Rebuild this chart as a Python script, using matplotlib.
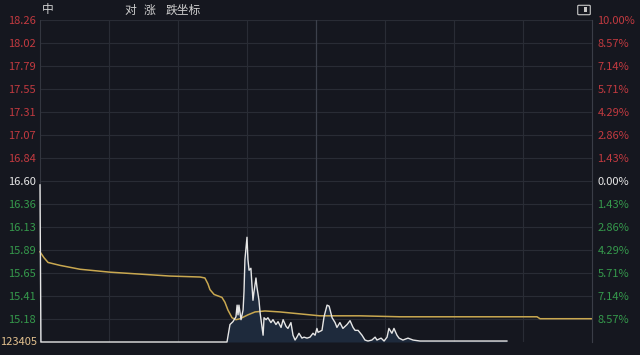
import numpy as np
import matplotlib.pyplot as plt
from matplotlib.patches import FancyBboxPatch, Rectangle

plt.rcParams['font.family'] = ['Noto Sans CJK SC', 'DejaVu Sans']

# price axis (left) and change % (right)
price_ticks = [18.26, 18.02, 17.79, 17.55, 17.31, 17.07, 16.84, 16.60,
               16.36, 16.13, 15.89, 15.65, 15.41, 15.18]
pct_labels = ['10.00%', '8.57%', '7.14%', '5.71%', '4.29%', '2.86%', '1.43%', '0.00%',
              '1.43%', '2.86%', '4.29%', '5.71%', '7.14%', '8.57%']
base_price = 16.60
low_limit, high_limit = 14.94, 18.26
volume_label = '123405'

# minute line (white), minutes 0-240
t_price = [0, 0.4, 81.3, 82.6, 83.9, 85.2, 85.7, 86.1, 86.5, 87.4,
           88.3, 88.7, 89.1, 90.0, 90.4, 90.9, 91.7, 92.2, 92.6, 93.0,
           93.9, 94.3, 95.2, 95.7, 96.1, 97.0, 97.4, 98.3, 99.1, 100.4,
           101.3, 102.6, 103.5, 104.8, 105.7, 107.0, 107.8, 109.1, 110.0, 110.9,
           111.7, 112.6, 113.9, 114.8, 116.1, 117.4, 118.7, 119.6, 120.4, 120.9,
           122.6, 123.5, 124.8, 125.7, 127.0, 128.3, 129.1, 130.4, 131.7, 133.5,
           134.8, 136.1, 137.0, 138.3, 140.0, 141.3, 142.6, 144.3, 145.7, 146.5,
           148.3, 149.6, 150.9, 151.7, 153.0, 153.9, 155.2, 156.1, 157.8, 160.0,
           162.2, 165.2, 203.0]
price = [16.56, 14.94, 14.94, 15.12, 15.15, 15.20, 15.32, 15.22, 15.32, 15.17,
         15.27, 15.46, 15.79, 16.02, 15.79, 15.68, 15.70, 15.51, 15.37, 15.45,
         15.60, 15.51, 15.37, 15.24, 15.17, 15.01, 15.19, 15.17, 15.19, 15.14,
         15.17, 15.12, 15.15, 15.09, 15.17, 15.10, 15.08, 15.14, 15.01, 14.96,
         14.99, 15.03, 14.98, 14.99, 14.98, 14.99, 15.03, 15.01, 15.08, 15.04,
         15.06, 15.20, 15.32, 15.31, 15.19, 15.14, 15.09, 15.14, 15.08, 15.12,
         15.16, 15.09, 15.06, 15.06, 15.01, 14.96, 14.95, 14.96, 14.99, 14.96,
         14.98, 14.95, 14.99, 15.08, 15.03, 15.08, 15.01, 14.98, 14.96, 14.98,
         14.96, 14.95, 14.95]

# average price line (yellow)
t_avg = [0, 1.7, 3.5, 8.7, 17.4, 30.4, 43.5, 56.5, 69.6, 71.7, 73.0, 73.9, 75.7,
         79.1, 80.4, 81.7, 83.5, 85.2, 87.0, 90.4, 93.5, 97.8, 104.3, 113.0,
         121.7, 139.1, 156.5, 216.1, 217.4, 240]
avg = [15.87, 15.81, 15.76, 15.73, 15.69, 15.66, 15.64, 15.62, 15.61, 15.60,
       15.54, 15.48, 15.43, 15.40, 15.35, 15.27, 15.19, 15.17, 15.18, 15.22,
       15.25, 15.26, 15.25, 15.23, 15.21, 15.21, 15.20, 15.20, 15.18, 15.18]

bg = '#15171f'
grid_c = '#292c35'
red = '#c23a40'
green = '#35994c'

fig = plt.figure(figsize=(6.4, 3.55), dpi=100, facecolor=bg)
ax = fig.add_axes([40/640, 1 - 342/355, 552/640, 322/355], facecolor=bg)

for p in price_ticks:
    ax.axhline(p, color=grid_c, lw=0.8, zorder=0)
for m in [30, 60, 90, 150, 180, 210]:
    ax.axvline(m, color=grid_c, lw=0.8, zorder=0)
ax.axvline(120, color='#3c404b', lw=0.9, zorder=0)

ax.fill_between(t_price, price, low_limit, color='#1e2a3c', lw=0, zorder=1)
ax.plot(t_avg, avg, color='#c9a850', lw=1.1, zorder=2, clip_on=False)
ax.plot(t_price, price, color='#e6e6e6', lw=1.0, zorder=3, clip_on=False)

ax.set_xlim(0, 240)
ax.set_ylim(low_limit, high_limit)
ax.set_xticks([])

for s in ['top', 'bottom']:
    ax.spines[s].set_visible(False)
ax.spines['left'].set_color('#33363f')
ax.spines['right'].set_color('#3a3d47')

def tick_color(p):
    if p > base_price:
        return red
    if p < base_price:
        return green
    return '#e8e8e8'

ax.set_yticks(price_ticks)
ax.set_yticklabels([f'{p:.2f}' for p in price_ticks], fontsize=8)
ax.tick_params(axis='y', length=0, pad=3)
for lbl, p in zip(ax.get_yticklabels(), price_ticks):
    lbl.set_color(tick_color(p))

ax2 = ax.twinx()
ax2.set_ylim(low_limit, high_limit)
ax2.set_yticks(price_ticks)
ax2.set_yticklabels(pct_labels, fontsize=8)
ax2.tick_params(axis='y', length=0, pad=4)
for lbl, p in zip(ax2.get_yticklabels(), price_ticks):
    lbl.set_color(tick_color(p))
for s in ax2.spines.values():
    s.set_visible(False)

fig.text(37/640, 1 - 342/355, volume_label, color='#e2c08e', fontsize=8,
         ha='right', va='center')

# title (partly blurred in the original)
ty = 1 - 10/355
fig.text(42/640, ty, '中', color='#cfcfcf', fontsize=8.5, va='center')
fig.text(124/640, ty, '对', color='#cfcfcf', fontsize=8.5, va='center')
fig.text(144/640, ty, '涨', color='#cfcfcf', fontsize=8.5, va='center')
fig.text(166/640, ty, '跌坐标', color='#cfcfcf', fontsize=8.5, va='center')

# small icon top right
fig.patches.append(FancyBboxPatch((579/640, 1 - 14/355), 10/640, 8/355,
                                  boxstyle='round,pad=0.002', fc='none', ec='#c8c8c8',
                                  lw=0.8, transform=fig.transFigure))
fig.patches.append(Rectangle((584/640, 1 - 12/355), 2.5/640, 5/355, fc='#c8c8c8',
                             ec='none', transform=fig.transFigure))

plt.savefig('out.png', dpi=100, facecolor=bg)
